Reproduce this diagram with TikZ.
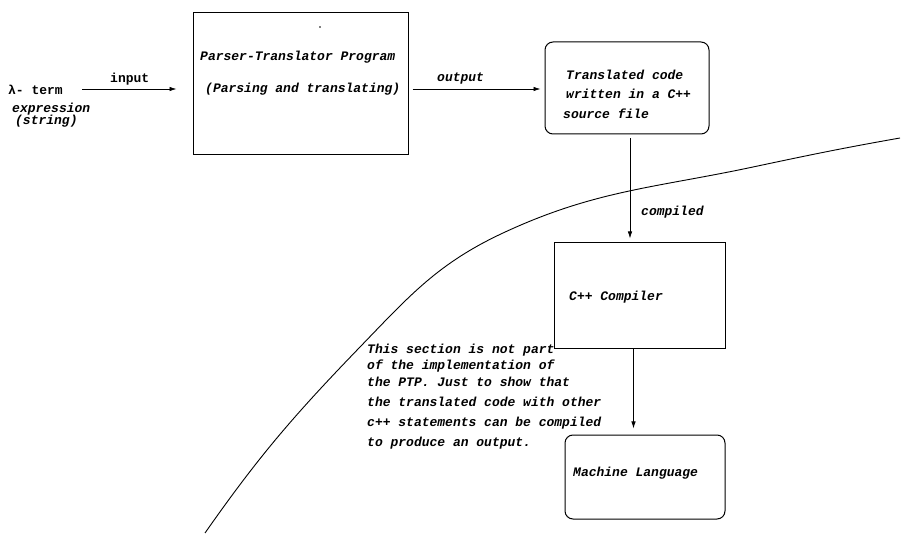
\documentclass[tikz,border=0pt]{standalone}
\usepackage{fontspec}
\setmonofont{Liberation Mono}
\usetikzlibrary{arrows.meta}
\begin{document}
\begin{tikzpicture}[x=1pt,y=-1pt,
  every node/.style={inner sep=0pt,font=\fontsize{13}{15}\selectfont\ttfamily\bfseries\itshape},
  txt/.style={anchor=west},
  upr/.style={anchor=west,font=\fontsize{13}{15}\selectfont\ttfamily\bfseries},
  sqbox/.style={draw,line width=1pt},
  rbox/.style={draw,line width=1pt,rounded corners=8pt},
  arr/.style={line width=0.8pt,-{Latex[length=7pt,width=4.5pt]}}]
\useasboundingbox (0,0) rectangle (905,534);

% boxes
\node[sqbox,minimum width=215pt,minimum height=142pt] (ptp) at (300.5,84) {};
\node[rbox,minimum width=164pt,minimum height=92pt] (src) at (627,88) {};
\node[sqbox,minimum width=171pt,minimum height=106pt] (cc) at (639.5,296) {};
\node[rbox,minimum width=160pt,minimum height=84pt] (ml) at (645,477) {};
\fill (320,27) circle (0.9pt);

% texts
\node[upr] (lam) at (8,90) {λ- term};
\node[txt] (expr) at (12,109) {expression};
\node[txt] (str) at (15,121) {(string)};
\node[upr] (inlab) at (110,79) {input};
\node[txt] (t1) at (200,57) {Parser-Translator Program};
\node[txt] (t2) at (205,89) {(Parsing and translating)};
\node[txt] (outlab) at (437,79) {output};
\node[txt] (s1) at (566,75) {Translated code};
\node[txt] (s2) at (566,94) {written in a C++};
\node[txt] (s3) at (563,114) {source file};
\node[txt] (cmp) at (641,212) {compiled};
\node[txt] (cc1) at (569,297) {C++ Compiler};
\node[txt] (ml1) at (573,473) {Machine Language};
\node[txt] (n1) at (367,350) {This section is not part};
\node[txt] (n2) at (367,366) {of the implementation of};
\node[txt] (n3) at (367,382) {the PTP. Just to show that};
\node[txt] (n4) at (367,402) {the translated code with other};
\node[txt] (n5) at (367,423) {c++ statements can be compiled};
\node[txt] (n6) at (367,443) {to produce an output.};

% connectors
\coordinate (inStart) at (82,89);
\draw[arr,shorten >=16pt] (inStart) -- (inStart -| ptp.west);
\coordinate (outStart) at ([xshift=4pt,yshift=-5pt]ptp.east);
\draw[arr,shorten >=4pt] (outStart) -- (outStart -| src.west);
\coordinate (dn1) at ([xshift=3pt,yshift=-4pt]src.south);
\draw[arr,shorten >=4pt] (dn1) -- (dn1 |- cc.north);
\coordinate (dn2) at ([xshift=-6pt]cc.south);
\draw[arr,shorten >=6pt] (dn2) -- (dn2 |- ml.north);

% boundary curve
\draw[line width=0.9pt] (205,533) to[out=55,in=226] (360,347)
  to[out=46,in=205] (503,233) to[out=25,in=192] (753,167)
  to[out=12,in=190] (900,138);
\end{tikzpicture}
\end{document}
